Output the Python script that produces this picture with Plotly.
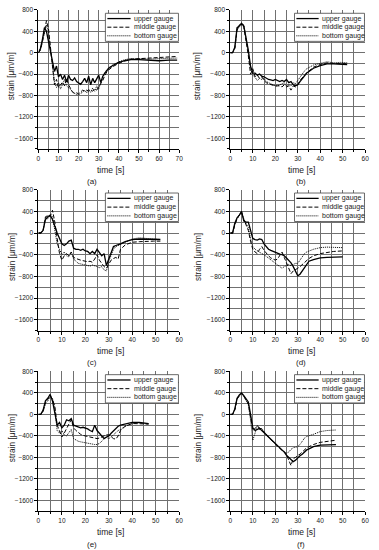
import plotly.graph_objects as go

W, H = 379, 550

# ---------------- data ----------------
t_a = list(range(0, 36)) + [37, 40, 43, 46, 50, 55, 60, 65, 69]
a_upper = [0, 80, 250, 470, 400, 200, 0, -150, -350, -250,
           -450, -400, -500, -420, -550, -420, -500, -520, -470, -540,
           -570, -590, -540, -480, -560, -440, -600, -480, -560, -500,
           -420, -560, -440, -380, -330, -290,
           -240, -180, -150, -130, -130, -140, -150, -140, -140]
a_middle = [0, 50, 200, 420, 600, 450, 100, -300, -600, -500,
            -650, -600, -550, -620, -480, -600, -680, -740, -760, -750,
            -770, -730, -700, -720, -700, -720, -700, -720, -680, -700,
            -640, -600, -520, -430, -360, -320,
            -260, -200, -150, -120, -110, -100, -90, -80, -70]
a_bottom = [0, 60, 220, 400, 520, 380, 50, -250, -550, -650,
            -560, -680, -600, -500, -620, -660, -700, -720, -760, -780,
            -790, -760, -740, -700, -750, -680, -740, -660, -720, -620,
            -680, -560, -460, -380, -320, -280,
            -230, -170, -130, -110, -110, -120, -110, -100, -100]

t_b = list(range(0, 36)) + [37, 40, 43, 46, 49, 52]
b_upper = [0, 0, 100, 470, 500, 550, 500, 300, 50, -250,
           -380, -380, -420, -400, -440, -450, -480, -500, -510, -520,
           -500, -520, -540, -520, -540, -500, -560, -540, -600, -620,
           -600, -540, -480, -420, -380, -350,
           -290, -240, -210, -210, -220, -220]
b_middle = [0, 0, 80, 420, 520, 540, 480, 250, -50, -400,
            -300, -450, -420, -480, -450, -520, -560, -580, -600, -610,
            -620, -620, -620, -640, -600, -640, -620, -700, -620, -640,
            -600, -520, -460, -420, -380, -340,
            -270, -220, -190, -200, -200, -210]
b_bottom = [0, 0, 90, 450, 480, 520, 520, 280, 0, -300,
            -420, -460, -520, -480, -500, -480, -540, -560, -580, -600,
            -620, -620, -600, -580, -560, -620, -600, -620, -560, -580,
            -520, -440, -380, -340, -300, -280,
            -230, -200, -170, -190, -180, -190]

t_c = list(range(0, 36)) + [37, 40, 43, 46, 49, 52]
c_upper = [0, 0, 50, 250, 300, 330, 250, 100, 0, -100,
           -200, -230, -200, -150, -130, -280, -300, -300, -320, -300,
           -330, -340, -380, -340, -380, -300, -360, -420, -380, -600,
           -480, -350, -250, -230, -220, -200,
           -160, -120, -110, -110, -110, -120]
c_middle = [0, 0, 50, 300, 320, 300, 420, 200, -100, -380,
            -500, -420, -380, -420, -350, -450, -470, -490, -500, -510,
            -520, -530, -520, -540, -480, -400, -500, -560, -620, -650,
            -560, -500, -470, -450, -480, -300,
            -220, -170, -160, -150, -150, -150]
c_bottom = [0, 0, 40, 280, 260, 330, 300, 50, -200, -300,
            -400, -350, -420, -440, -350, -480, -530, -560, -570, -580,
            -590, -600, -610, -590, -600, -620, -640, -620, -680, -700,
            -520, -420, -300, -250, -230, -210,
            -160, -110, -90, -100, -110, -120]

t_d = list(range(0, 36)) + [37, 40, 43, 46, 50]
d_upper = [0, 0, 180, 280, 330, 400, 220, 200, 200, 50,
           -100, -120, -130, -110, -120, -200, -250, -300, -320, -340,
           -350, -370, -390, -400, -420, -460, -500, -550, -620, -720,
           -790, -760, -700, -620, -560, -520,
           -490, -460, -450, -445, -440]
d_middle = [0, 0, 150, 260, 330, 380, 250, 150, 50, -150,
            -300, -350, -380, -300, -250, -320, -380, -420, -460, -480,
            -500, -480, -420, -350, -450, -550, -650, -750, -700, -680,
            -650, -620, -580, -540, -500, -470,
            -420, -380, -360, -340, -330]
d_bottom = [0, 0, 160, 270, 330, 390, 260, 180, 100, -100,
            -250, -300, -330, -350, -380, -400, -430, -470, -500, -530,
            -550, -580, -620, -650, -620, -600, -580, -600, -580, -560,
            -560, -500, -420, -380, -350, -330,
            -300, -270, -260, -265, -270]

t_e = list(range(0, 36)) + [37, 40, 43, 47]
e_upper = [0, 0, 80, 250, 300, 370, 250, 50, -200, -150,
           -250, -200, -100, -120, -80, -200, -220, -230, -250, -240,
           -250, -270, -300, -320, -200, -300, -350, -400, -450, -420,
           -400, -350, -300, -250, -220, -200,
           -180, -150, -150, -170]
e_middle = [0, 0, 60, 220, 280, 350, 280, 150, -200, -300,
            -420, -350, -250, -180, -100, -250, -300, -340, -370, -390,
            -400, -420, -430, -440, -450, -450, -440, -420, -400, -380,
            -380, -420, -450, -460, -400, -300,
            -220, -170, -170, -180]
e_bottom = [0, 0, 50, 200, 250, 330, 300, 100, -300, -350,
            -300, -380, -400, -350, -280, -450, -480, -500, -510, -520,
            -520, -530, -540, -550, -560, -560, -540, -500, -450, -430,
            -450, -420, -380, -340, -300, -280,
            -220, -170, -160, -180]

t_f = list(range(0, 36)) + [37, 40, 43, 47]
f_upper = [0, 0, 100, 300, 360, 400, 350, 280, 230, 0,
           -250, -300, -280, -260, -300, -350, -380, -420, -460, -500,
           -540, -580, -620, -660, -700, -760, -800, -830, -880, -850,
           -800, -770, -740, -700, -660, -640,
           -600, -570, -560, -560]
f_middle = [0, 0, 80, 280, 350, 390, 340, 260, 200, -50,
            -300, -260, -220, -250, -280, -330, -380, -420, -470, -510,
            -550, -590, -630, -670, -690, -750, -850, -950, -820, -800,
            -760, -740, -700, -660, -620, -600,
            -560, -520, -500, -480]
f_bottom = [0, 0, 90, 290, 340, 380, 330, 250, 180, -100,
            -480, -350, -200, -280, -260, -320, -380, -420, -460, -500,
            -540, -580, -620, -660, -700, -720, -700, -650, -620, -610,
            -600, -560, -500, -440, -410, -400,
            -370, -320, -300, -290]

series_names = ["upper gauge", "middle gauge", "bottom gauge"]
panel_labels = ["(a)", "(b)", "(c)", "(d)", "(e)", "(f)"]
x_max = [70, 60, 60, 60, 60, 60]
y_range = [-1800, 800]

panels = [
    (t_a, [a_upper, a_middle, a_bottom]),
    (t_b, [b_upper, b_middle, b_bottom]),
    (t_c, [c_upper, c_middle, c_bottom]),
    (t_d, [d_upper, d_middle, d_bottom]),
    (t_e, [e_upper, e_middle, e_bottom]),
    (t_f, [f_upper, f_middle, f_bottom]),
]

# ---------------- layout geometry (pixels) ----------------
col_px = [(37, 180), (232, 369)]
row_px = [(6, 146), (187, 329), (370, 511)]
ytitle_x = [10, 199]
xtitle_x = [110, 304]
label_x = [91, 304]
label_off = [33, 32, 33]

FONT = "Liberation Sans, Arial, sans-serif"
styles = [dict(dash="solid", width=1.3),
          dict(dash="4px,2px", width=1.0),
          dict(dash="1px,1px", width=1.0)]

fig = go.Figure()
layout = dict(width=W, height=H, margin=dict(l=0, r=0, t=0, b=0),
              paper_bgcolor="white", plot_bgcolor="white",
              showlegend=False, font=dict(family=FONT, color="#222"))
shapes, annotations = [], []
GRID = "#707070"

for i, (t, ys) in enumerate(panels):
    r, c = divmod(i, 2)
    n = "" if i == 0 else str(i + 1)
    x0, x1 = col_px[c]
    ytop, ybot = row_px[r]
    for name, y, st in zip(series_names, ys, styles):
        fig.add_trace(go.Scatter(x=t, y=y, mode="lines", name=name,
                                 line=dict(color="black", **st),
                                 xaxis="x" + n, yaxis="y" + n,
                                 showlegend=False))
    layout["xaxis" + n] = dict(
        domain=[x0 / W, x1 / W], anchor="y" + n, range=[0, x_max[i]],
        tick0=0, dtick=10, ticks="outside", ticklen=3, tickcolor="black",
        showline=True, linecolor="black", linewidth=1, zeroline=False,
        showgrid=True, gridcolor=GRID, gridwidth=1,
        minor=dict(dtick=5, showgrid=True, gridcolor=GRID, gridwidth=1,
                   ticks="outside", ticklen=2, tickcolor="black"),
        tickfont=dict(size=6.5, color="#222"))
    layout["yaxis" + n] = dict(
        domain=[1 - ybot / H, 1 - ytop / H], anchor="x" + n, range=y_range,
        tick0=0, dtick=400, ticks="outside", ticklen=3, tickcolor="black",
        showline=True, linecolor="black", linewidth=1, zeroline=False,
        showgrid=True, gridcolor=GRID, gridwidth=1,
        minor=dict(dtick=200, showgrid=True, gridcolor=GRID, gridwidth=1,
                   ticks="outside", ticklen=2, tickcolor="black"),
        tickfont=dict(size=6.5, color="#222"))

    # legend box drawn in axis-domain coordinates
    xr, yr = "x" + n + " domain", "y" + n + " domain"
    shapes.append(dict(type="rect", xref=xr, yref=yr, x0=0.476, x1=0.995,
                       y0=0.774, y1=0.976, fillcolor="white",
                       line=dict(color="#444", width=0.8)))
    for k, (name, st) in enumerate(zip(series_names, styles)):
        yy = [0.938, 0.876, 0.814][k]
        shapes.append(dict(type="line", xref=xr, yref=yr, x0=0.49, x1=0.655,
                           y0=yy, y1=yy,
                           line=dict(color="black", width=st["width"],
                                     dash=st["dash"])))
        annotations.append(dict(text=name, xref=xr, yref=yr, x=0.665, y=yy,
                                xanchor="left", yanchor="middle",
                                showarrow=False,
                                font=dict(size=7, color="#222", family=FONT)))

    # axis titles and panel label
    annotations.append(dict(text="strain [μm/m]", xref="paper", yref="paper",
                            x=ytitle_x[c] / W, y=1 - ((ytop + ybot) / 2 - 3) / H,
                            textangle=-90, showarrow=False,
                            xanchor="center", yanchor="middle",
                            font=dict(size=8.3, color="#222", family=FONT)))
    annotations.append(dict(text="time [s]", xref="paper", yref="paper",
                            x=xtitle_x[c] / W, y=1 - (ybot + 21) / H,
                            showarrow=False, xanchor="center", yanchor="middle",
                            font=dict(size=8.5, color="#222", family=FONT)))
    annotations.append(dict(text=panel_labels[i], xref="paper", yref="paper",
                            x=label_x[c] / W, y=1 - (ybot + label_off[r]) / H,
                            showarrow=False, xanchor="center", yanchor="middle",
                            font=dict(size=8, color="#222", family=FONT)))

layout["shapes"] = shapes
layout["annotations"] = annotations
fig.update_layout(**layout)
fig.write_html("out.html",
               config=dict(displayModeBar=False, staticPlot=True),
               post_script="document.body.style.margin='0';"
                           "document.body.style.padding='0';")
